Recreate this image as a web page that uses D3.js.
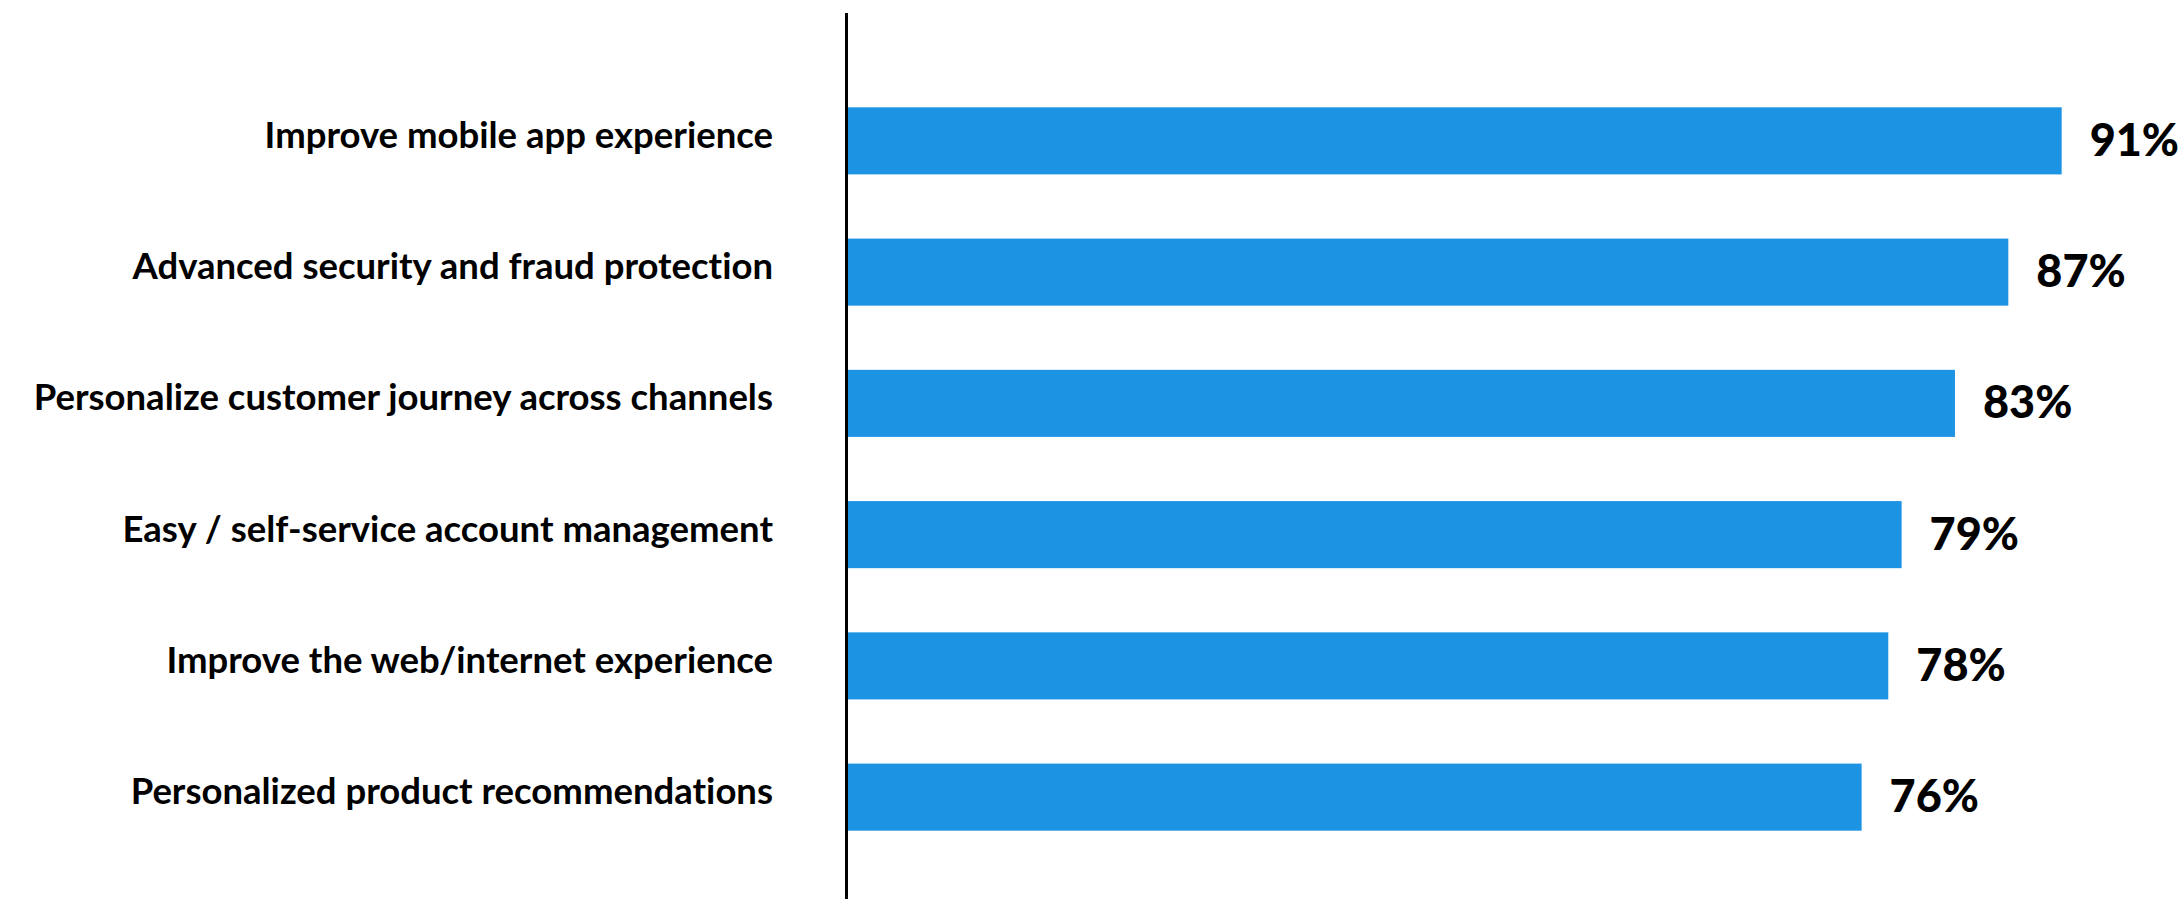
<!DOCTYPE html>
<html>
<head>
<meta charset="utf-8">
<script src="https://cdn.jsdelivr.net/npm/d3@7"></script>
<style>
  html, body { margin: 0; padding: 0; background: #fff; }
  svg { display: block; }
  text { font-variant-ligatures: none; font-feature-settings: "liga" 0, "dlig" 0; }
</style>
</head>
<body>
<svg id="chart" width="2183" height="899"></svg>
<script>
const categories = [
  "Improve mobile app experience",
  "Advanced security and fraud protection",
  "Personalize customer journey across channels",
  "Easy / self-service account management",
  "Improve the web/internet experience",
  "Personalized product recommendations"
];
const values = [91, 87, 83, 79, 78, 76];
const valueLabels = ["91%", "87%", "83%", "79%", "78%", "76%"];

const W = 2183, H = 899;
const axisX = 848;
const svg = d3.select("#chart");

const x = d3.scaleLinear().domain([0, 100]).range([axisX, 2181.7]);
const y = d3.scaleBand().domain(categories).range([43, 895]).paddingInner(0.489).paddingOuter(0.49);

const data = categories.map((c, i) => ({ c, v: values[i], l: valueLabels[i] }));

svg.selectAll("rect.bar").data(data).join("rect")
  .attr("class", "bar")
  .attr("x", x(0))
  .attr("y", d => y(d.c))
  .attr("width", d => x(d.v) - x(0))
  .attr("height", y.bandwidth())
  .attr("fill", "#1d93e3");

// axis line
svg.append("line")
  .attr("x1", axisX - 1.5).attr("x2", axisX - 1.5)
  .attr("y1", 13).attr("y2", H)
  .attr("stroke", "#000").attr("stroke-width", 3);

svg.selectAll("text.cat").data(data).join("text")
  .attr("class", "cat")
  .attr("x", 773)
  .attr("y", d => y(d.c) + y.bandwidth() / 2 + 7)
  .attr("text-anchor", "end")
  .attr("font-family", "Lato, sans-serif")
  .attr("font-weight", 700)
  .attr("font-size", 36.5)
  .attr("fill", "#000")
  .text(d => d.c);

svg.selectAll("text.val").data(data).join("text")
  .attr("class", "val")
  .attr("x", d => x(d.v) + 28)
  .attr("y", d => y(d.c) + y.bandwidth() / 2 + 15)
  .attr("text-anchor", "start")
  .attr("font-family", "Lato, sans-serif")
  .attr("font-weight", 900)
  .attr("font-size", 45)
  .attr("fill", "#000")
  .text(d => d.l);
</script>
</body>
</html>
